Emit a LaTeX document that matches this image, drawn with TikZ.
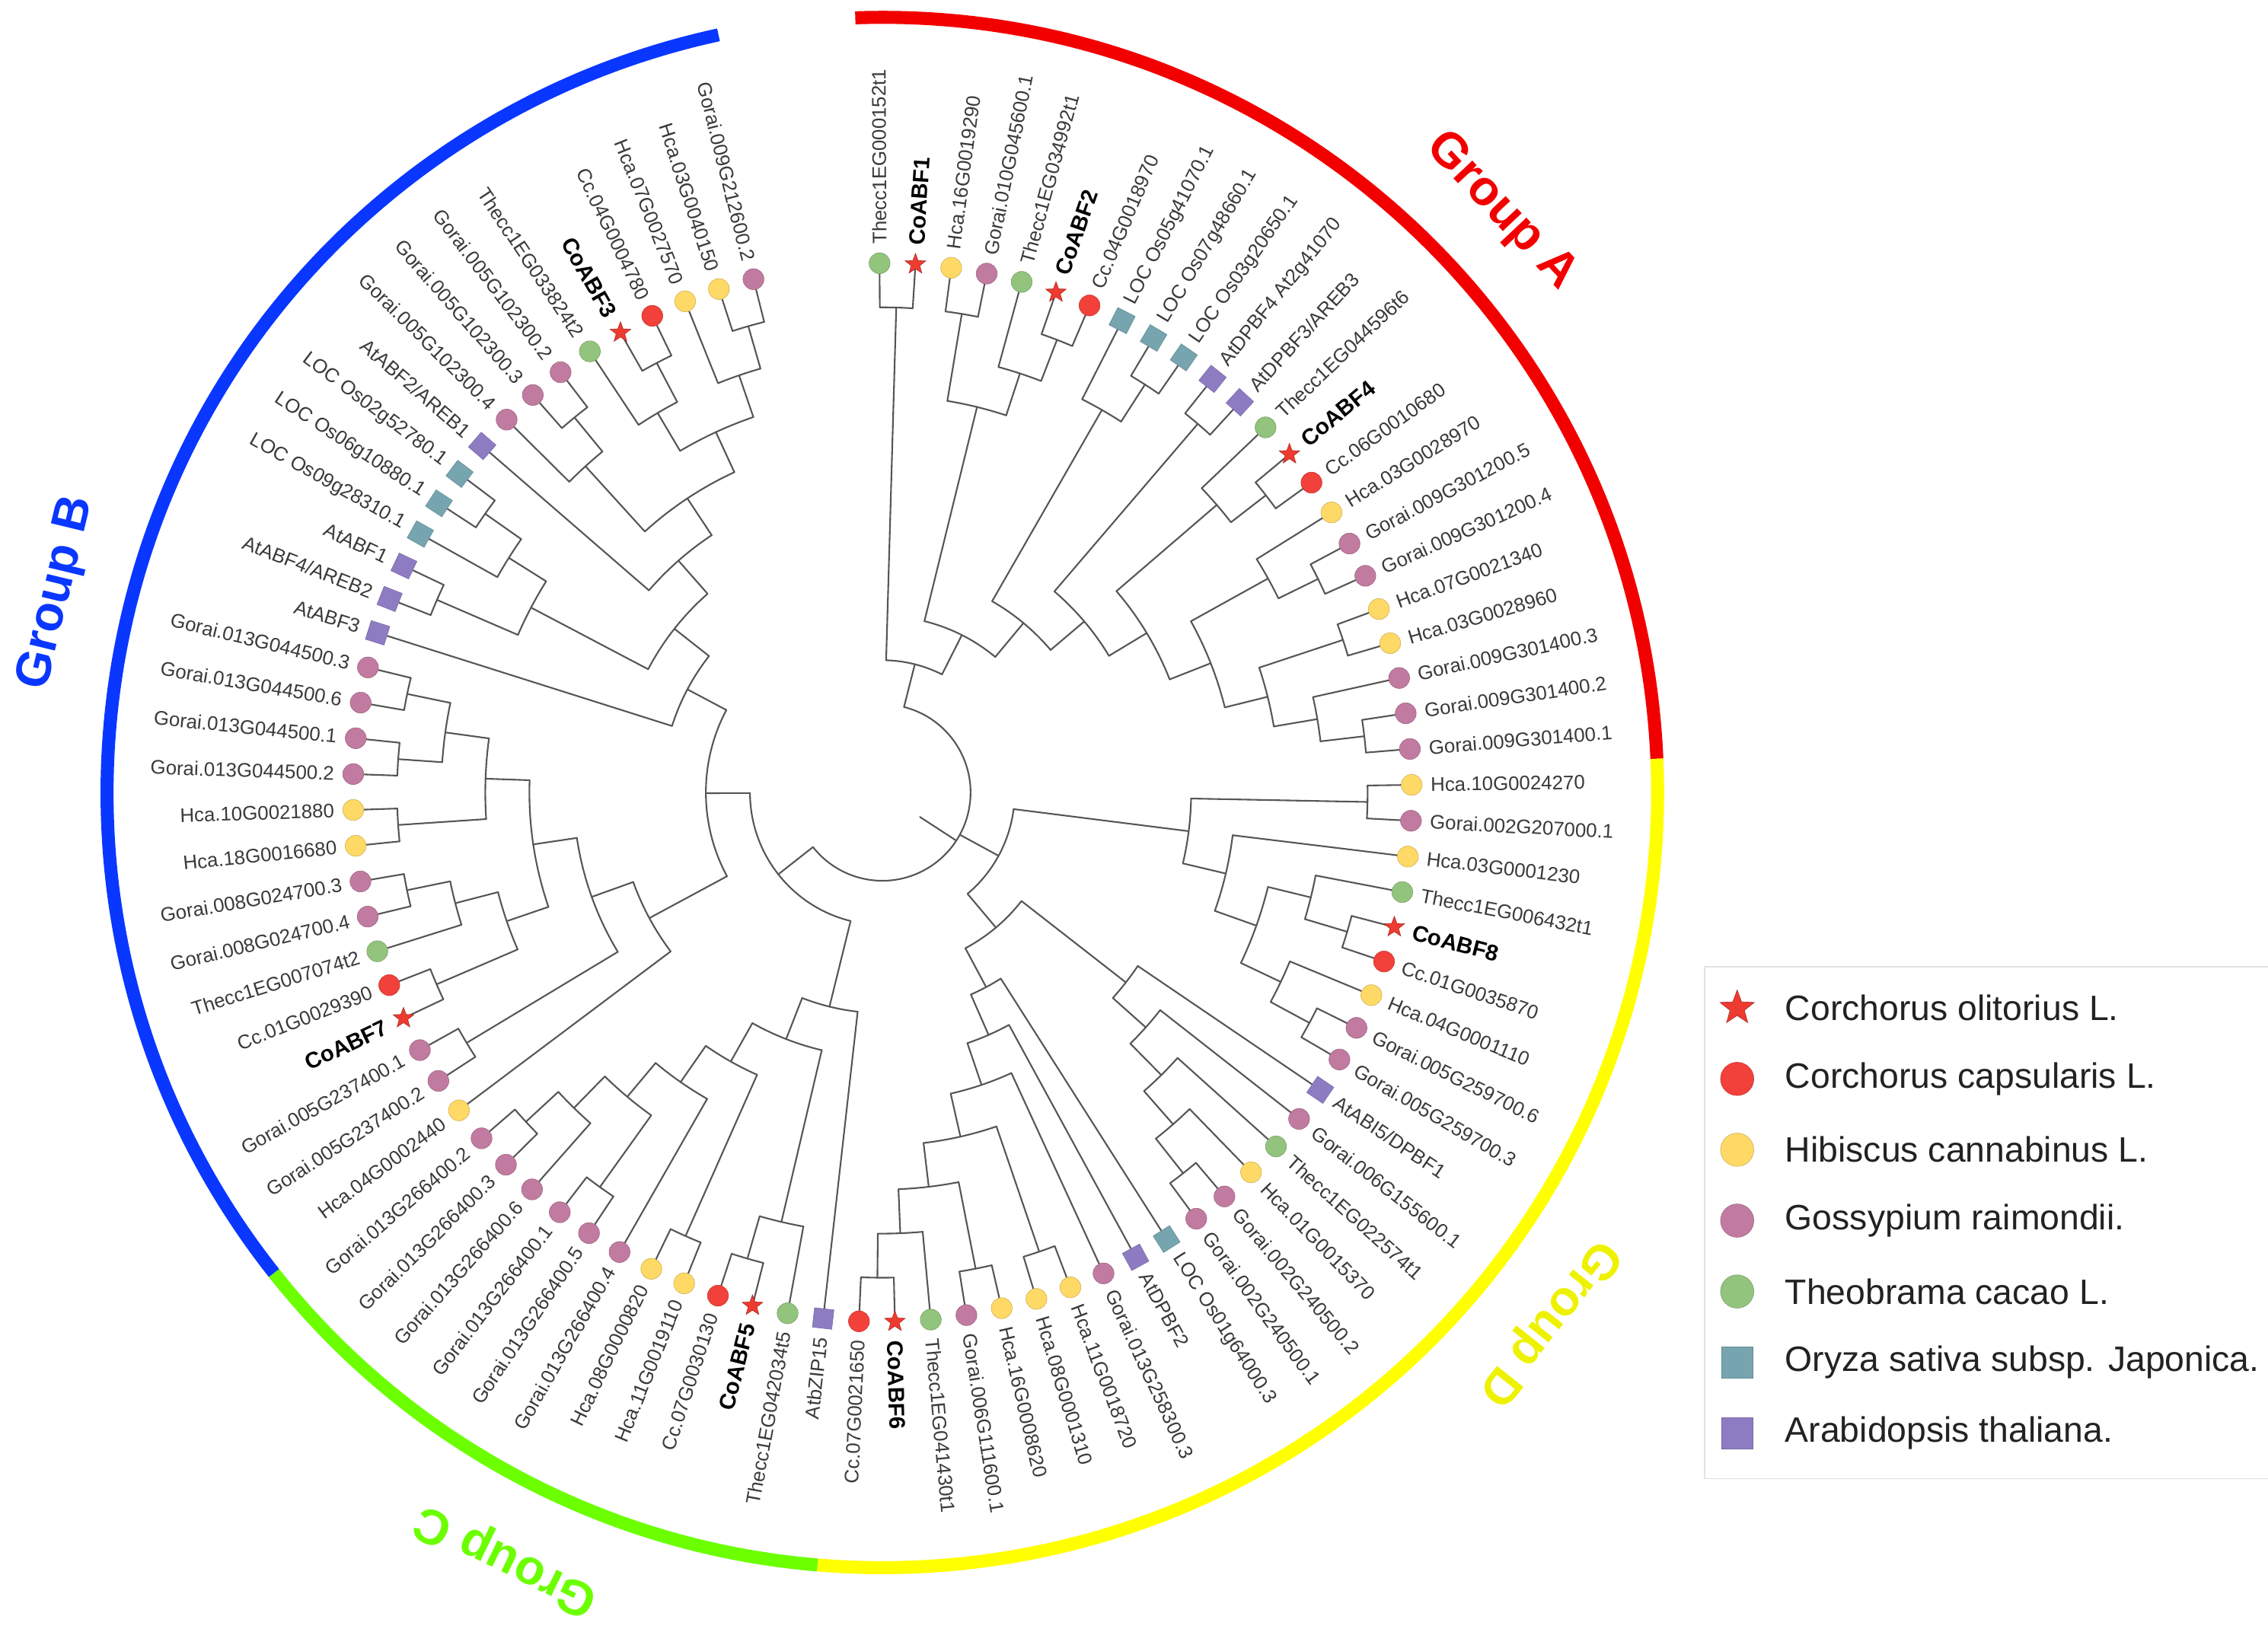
\documentclass[tikz,border=0pt]{standalone}
\usepackage{fontspec}
\setmainfont{Liberation Sans}
\usetikzlibrary{shapes.geometric}
\definecolor{treegray}{HTML}{555555}
\definecolor{labgray}{HTML}{3A3A3A}
\definecolor{cStar}{HTML}{EE3B30}
\definecolor{cCc}{HTML}{F2413A}
\definecolor{cHc}{HTML}{FFD966}
\definecolor{cGr}{HTML}{C27BA0}
\definecolor{cTc}{HTML}{93C47D}
\definecolor{cOs}{HTML}{76A5AF}
\definecolor{cAt}{HTML}{8E7CC3}
\definecolor{rRed}{HTML}{F20000}
\definecolor{rBlue}{HTML}{0A37FF}
\definecolor{rGreen}{HTML}{6BFF00}
\definecolor{rYellow}{HTML}{FFFF00}
\definecolor{tYellow}{HTML}{EEF200}
\definecolor{legbox}{HTML}{E2E2E2}
\definecolor{legtext}{HTML}{222222}

% internal node: child angle 1, child angle 2, height, parent height
\newcommand\tnode[4]{%
  \pgfmathsetmacro\tra{366-30.5*#3}%
  \pgfmathsetmacro\trb{366-30.5*#4}%
  \pgfmathsetmacro\tam{(#1+#2)/2}%
  \draw[br] (#1:\tra pt) arc[start angle=#1, end angle=#2, radius=\tra pt];%
  \draw[br] (\tam:\trb pt) -- (\tam:\tra pt);%
}
% leaf: index, parent height, symbol style, label, label style
\newcommand\tleaf[5]{%
  \pgfmathsetmacro\tth{90.3-3.89*(#1-1)}%
  \pgfmathsetmacro\trb{366-30.5*#2}%
  \pgfmathsetmacro\tcc{cos(\tth)}%
  \draw[br] (\tth:\trb pt) -- (\tth:366pt);%
  \node[#3=\tth] (s#1) at (\tth:366pt) {};%
  \ifdim\tcc pt<-0.02pt
    \pgfmathsetmacro\trot{\tth+180}%
    \node[#5, anchor=east, rotate=\trot] (t#1) at (\tth:379pt) {#4};%
  \else
    \node[#5, anchor=west, rotate=\tth] (t#1) at (\tth:379pt) {#4};%
  \fi
}

\begin{document}
\begin{tikzpicture}[x=1pt,y=1pt,
  br/.style={draw=treegray, line width=1.1pt, line cap=round},
  ring/.style={line width=9pt, line cap=butt},
  lab/.style={font=\fontsize{13.6}{15}\selectfont, text=labgray, inner sep=0pt},
  labb/.style={font=\fontsize{15.5}{17}\selectfont\bfseries, text=black, inner sep=0pt},
  sOl/.style={star, star points=5, star point ratio=2.4, minimum size=15pt, inner sep=0pt, fill=cStar, draw=cStar!70!black, line width=0.3pt},
  sCc/.style={circle, minimum size=14.5pt, inner sep=0pt, fill=cCc, draw=cCc!80!black, line width=0.3pt},
  sHc/.style={circle, minimum size=14.5pt, inner sep=0pt, fill=cHc, draw=cHc!80!black, line width=0.3pt},
  sGr/.style={circle, minimum size=14.5pt, inner sep=0pt, fill=cGr, draw=cGr!80!black, line width=0.3pt},
  sTc/.style={circle, minimum size=14.5pt, inner sep=0pt, fill=cTc, draw=cTc!80!black, line width=0.3pt},
  sOs/.style={rectangle, minimum size=13.5pt, inner sep=0pt, fill=cOs, draw=cOs!85!black, line width=0.3pt, rotate=#1},
  sAt/.style={rectangle, minimum size=13.5pt, inner sep=0pt, fill=cAt, draw=cAt!85!black, line width=0.3pt, rotate=#1},
  grp/.style={font=\fontsize{34}{38}\selectfont\bfseries, inner sep=0pt},
  legt/.style={font=\fontsize{24.4}{28}\selectfont, text=legtext, anchor=west, inner sep=0pt}
]
\useasboundingbox (0,0) rectangle (1568,-1126);
\fill[white] (0,0) rectangle (1568,-1126);

\begin{scope}[shift={(610,-548)}]
% coloured ring
\draw[ring, rRed] (92:536pt) arc[start angle=92, end angle=2.5, radius=536pt];
\draw[ring, rYellow] (2.5:536pt) arc[start angle=2.5, end angle=-94.8, radius=536pt];
\draw[ring, rGreen] (-94.8:536pt) arc[start angle=-94.8, end angle=-141.7, radius=536pt];
\draw[ring, rBlue] (-141.7:536pt) arc[start angle=-141.7, end angle=-257.8, radius=536pt];

% group labels
\node[grp, text=rRed, rotate=-46.8] (gA) at (43.2:587pt) {Group A};
\node[grp, text=rBlue, rotate=76.4] (gB) at (166.4:587pt) {Group B};
\node[grp, text=rGreen, rotate=153.9] (gC) at (243.9:590pt) {Group C};
\node[grp, text=tYellow, rotate=-128.5] (gD) at (-38.5:588pt) {Group D};

% root
\draw[br] (75.781:61pt) arc[start angle=75.781, end angle=-141.8236, radius=61pt];
\draw[br] (-33.021:31pt) -- (-33.021:61pt);

% Group A
\tnode{90.30}{86.41}{1}{9}
\tnode{82.52}{78.63}{1}{3}
\tnode{70.85}{66.96}{1}{2}
\tnode{74.74}{68.905}{2}{3}
\tnode{80.575}{71.8225}{3}{8}
\tnode{59.18}{55.29}{1}{2}
\tnode{63.07}{57.235}{2}{7}
\tnode{51.40}{47.51}{1}{6}
\tnode{39.73}{35.84}{1}{2}
\tnode{43.62}{37.785}{2}{5}
\tnode{28.06}{24.17}{1}{2}
\tnode{31.95}{26.115}{2}{4}
\tnode{20.28}{16.39}{1}{3}
\tnode{8.61}{4.72}{1}{2}
\tnode{12.50}{6.665}{2}{3}
\tnode{18.335}{9.5825}{3}{4}
\tnode{29.0325}{13.95875}{4}{5}
\tnode{40.7025}{21.4956}{5}{6}
\tnode{49.455}{31.099}{6}{7}
\tnode{60.1525}{40.277}{7}{8}
\tnode{76.199}{50.2148}{8}{9}
\tnode{88.355}{63.207}{9}{10}

% Group D
\tnode{0.83}{-3.06}{1}{5}
\tnode{-14.73}{-18.62}{1}{2}
\tnode{-10.84}{-16.675}{2}{3}
\tnode{-26.40}{-30.29}{1}{2}
\tnode{-22.51}{-28.345}{2}{3}
\tnode{-13.7575}{-25.4275}{3}{4}
\tnode{-6.95}{-19.5925}{4}{5}
\tnode{-1.115}{-13.27125}{5}{9}
\tnode{-49.74}{-53.63}{1}{2}
\tnode{-45.85}{-51.685}{2}{3}
\tnode{-41.96}{-48.7675}{3}{4}
\tnode{-38.07}{-45.36375}{4}{5}
\tnode{-34.18}{-41.717}{5}{8}
\tnode{-88.64}{-92.53}{1}{2}
\tnode{-84.75}{-90.585}{2}{3}
\tnode{-76.97}{-80.86}{1}{3}
\tnode{-78.915}{-87.6675}{3}{4}
\tnode{-69.19}{-73.08}{1}{4}
\tnode{-71.135}{-83.29125}{4}{5}
\tnode{-65.30}{-77.213}{5}{6}
\tnode{-61.41}{-71.2565}{6}{7}
\tnode{-57.52}{-66.333}{7}{8}
\tnode{-37.9485}{-61.9265}{8}{9}
\tnode{-7.193}{-49.9375}{9}{10}

% Group C
\tnode{-104.20}{-108.09}{1}{2}
\tnode{-100.31}{-106.145}{2}{6}
\tnode{-111.98}{-115.87}{1}{5}
\tnode{-123.65}{-127.54}{1}{3}
\tnode{-135.32}{-139.21}{1}{2}
\tnode{-131.43}{-137.265}{2}{3}
\tnode{-125.595}{-134.3475}{3}{4}
\tnode{-119.76}{-129.97125}{4}{5}
\tnode{-113.925}{-124.8656}{5}{6}
\tnode{-119.3953}{-103.2275}{6}{7}
\tnode{-111.3114}{-96.42}{7}{9}

% Group B
\tnode{-146.99}{-150.88}{1}{5}
\tnode{-154.77}{-158.66}{1}{3}
\tnode{-166.44}{-170.33}{1}{2}
\tnode{-162.55}{-168.385}{2}{3}
\tnode{-156.715}{-165.4675}{3}{4}
\tnode{-174.22}{-178.11}{1}{3}
\tnode{-182.00}{-185.89}{1}{2}
\tnode{-189.78}{-193.67}{1}{2}
\tnode{-183.945}{-191.725}{2}{3}
\tnode{-176.165}{-187.835}{3}{4}
\tnode{-161.09125}{-182.0}{4}{5}
\tnode{-148.935}{-171.5456}{5}{6}
\tnode{-143.10}{-160.2403}{6}{8}
\tnode{-201.45}{-205.34}{1}{3}
\tnode{-213.12}{-217.01}{1}{2}
\tnode{-209.23}{-215.065}{2}{3}
\tnode{-203.395}{-212.1475}{3}{6}
\tnode{-228.68}{-232.57}{1}{2}
\tnode{-224.79}{-230.625}{2}{4}
\tnode{-240.35}{-244.24}{1}{2}
\tnode{-236.46}{-242.295}{2}{3}
\tnode{-252.02}{-255.91}{1}{2}
\tnode{-248.13}{-253.965}{2}{3}
\tnode{-239.3775}{-251.0475}{3}{4}
\tnode{-227.7075}{-245.2125}{4}{5}
\tnode{-220.90}{-236.46}{5}{6}
\tnode{-207.77125}{-228.68}{6}{7}
\tnode{-197.56}{-218.2256}{7}{8}
\tnode{-151.67}{-207.8928}{8}{9}
\tnode{-103.8657}{-179.7814}{9}{10}

% leaves
\tleaf{1}{1}{sTc}{Thecc1EG000152t1}{lab}
\tleaf{2}{1}{sOl}{CoABF1}{labb}
\tleaf{3}{1}{sHc}{Hca.16G0019290}{lab}
\tleaf{4}{1}{sGr}{Gorai.010G045600.1}{lab}
\tleaf{5}{2}{sTc}{Thecc1EG034992t1}{lab}
\tleaf{6}{1}{sOl}{CoABF2}{labb}
\tleaf{7}{1}{sCc}{Cc.04G0018970}{lab}
\tleaf{8}{2}{sOs}{LOC Os05g41070.1}{lab}
\tleaf{9}{1}{sOs}{LOC Os07g48660.1}{lab}
\tleaf{10}{1}{sOs}{LOC Os03g20650.1}{lab}
\tleaf{11}{1}{sAt}{AtDPBF4 At2g41070}{lab}
\tleaf{12}{1}{sAt}{AtDPBF3/AREB3}{lab}
\tleaf{13}{2}{sTc}{Thecc1EG044596t6}{lab}
\tleaf{14}{1}{sOl}{CoABF4}{labb}
\tleaf{15}{1}{sCc}{Cc.06G0010680}{lab}
\tleaf{16}{2}{sHc}{Hca.03G0028970}{lab}
\tleaf{17}{1}{sGr}{Gorai.009G301200.5}{lab}
\tleaf{18}{1}{sGr}{Gorai.009G301200.4}{lab}
\tleaf{19}{1}{sHc}{Hca.07G0021340}{lab}
\tleaf{20}{1}{sHc}{Hca.03G0028960}{lab}
\tleaf{21}{2}{sGr}{Gorai.009G301400.3}{lab}
\tleaf{22}{1}{sGr}{Gorai.009G301400.2}{lab}
\tleaf{23}{1}{sGr}{Gorai.009G301400.1}{lab}
\tleaf{24}{1}{sHc}{Hca.10G0024270}{lab}
\tleaf{25}{1}{sGr}{Gorai.002G207000.1}{lab}
\tleaf{26}{4}{sHc}{Hca.03G0001230}{lab}
\tleaf{27}{2}{sTc}{Thecc1EG006432t1}{lab}
\tleaf{28}{1}{sOl}{CoABF8}{labb}
\tleaf{29}{1}{sCc}{Cc.01G0035870}{lab}
\tleaf{30}{2}{sHc}{Hca.04G0001110}{lab}
\tleaf{31}{1}{sGr}{Gorai.005G259700.6}{lab}
\tleaf{32}{1}{sGr}{Gorai.005G259700.3}{lab}
\tleaf{33}{5}{sAt}{AtABI5/DPBF1}{lab}
\tleaf{34}{4}{sGr}{Gorai.006G155600.1}{lab}
\tleaf{35}{3}{sTc}{Thecc1EG022574t1}{lab}
\tleaf{36}{2}{sHc}{Hca.01G0015370}{lab}
\tleaf{37}{1}{sGr}{Gorai.002G240500.2}{lab}
\tleaf{38}{1}{sGr}{Gorai.002G240500.1}{lab}
\tleaf{39}{7}{sOs}{LOC Os01g64000.3}{lab}
\tleaf{40}{6}{sAt}{AtDPBF2}{lab}
\tleaf{41}{5}{sGr}{Gorai.013G258300.3}{lab}
\tleaf{42}{1}{sHc}{Hca.11G0018720}{lab}
\tleaf{43}{1}{sHc}{Hca.08G0001310}{lab}
\tleaf{44}{1}{sHc}{Hca.16G0008620}{lab}
\tleaf{45}{1}{sGr}{Gorai.006G111600.1}{lab}
\tleaf{46}{2}{sTc}{Thecc1EG041430t1}{lab}
\tleaf{47}{1}{sOl}{CoABF6}{labb}
\tleaf{48}{1}{sCc}{Cc.07G0021650}{lab}
\tleaf{49}{7}{sAt}{AtbZIP15}{lab}
\tleaf{50}{2}{sTc}{Thecc1EG042034t5}{lab}
\tleaf{51}{1}{sOl}{CoABF5}{labb}
\tleaf{52}{1}{sCc}{Cc.07G0030130}{lab}
\tleaf{53}{1}{sHc}{Hca.11G0019110}{lab}
\tleaf{54}{1}{sHc}{Hca.08G0000820}{lab}
\tleaf{55}{4}{sGr}{Gorai.013G266400.4}{lab}
\tleaf{56}{1}{sGr}{Gorai.013G266400.5}{lab}
\tleaf{57}{1}{sGr}{Gorai.013G266400.1}{lab}
\tleaf{58}{2}{sGr}{Gorai.013G266400.6}{lab}
\tleaf{59}{1}{sGr}{Gorai.013G266400.3}{lab}
\tleaf{60}{1}{sGr}{Gorai.013G266400.2}{lab}
\tleaf{61}{6}{sHc}{Hca.04G0002440}{lab}
\tleaf{62}{1}{sGr}{Gorai.005G237400.2}{lab}
\tleaf{63}{1}{sGr}{Gorai.005G237400.1}{lab}
\tleaf{64}{1}{sOl}{CoABF7}{labb}
\tleaf{65}{1}{sCc}{Cc.01G0029390}{lab}
\tleaf{66}{2}{sTc}{Thecc1EG007074t2}{lab}
\tleaf{67}{1}{sGr}{Gorai.008G024700.4}{lab}
\tleaf{68}{1}{sGr}{Gorai.008G024700.3}{lab}
\tleaf{69}{1}{sHc}{Hca.18G0016680}{lab}
\tleaf{70}{1}{sHc}{Hca.10G0021880}{lab}
\tleaf{71}{1}{sGr}{Gorai.013G044500.2}{lab}
\tleaf{72}{1}{sGr}{Gorai.013G044500.1}{lab}
\tleaf{73}{1}{sGr}{Gorai.013G044500.6}{lab}
\tleaf{74}{1}{sGr}{Gorai.013G044500.3}{lab}
\tleaf{75}{7}{sAt}{AtABF3}{lab}
\tleaf{76}{1}{sAt}{AtABF4/AREB2}{lab}
\tleaf{77}{1}{sAt}{AtABF1}{lab}
\tleaf{78}{2}{sOs}{LOC Os09g28310.1}{lab}
\tleaf{79}{1}{sOs}{LOC Os06g10880.1}{lab}
\tleaf{80}{1}{sOs}{LOC Os02g52780.1}{lab}
\tleaf{81}{5}{sAt}{AtABF2/AREB1}{lab}
\tleaf{82}{2}{sGr}{Gorai.005G102300.4}{lab}
\tleaf{83}{1}{sGr}{Gorai.005G102300.3}{lab}
\tleaf{84}{1}{sGr}{Gorai.005G102300.2}{lab}
\tleaf{85}{2}{sTc}{Thecc1EG033824t2}{lab}
\tleaf{86}{1}{sOl}{CoABF3}{labb}
\tleaf{87}{1}{sCc}{Cc.04G0004780}{lab}
\tleaf{88}{2}{sHc}{Hca.07G0027570}{lab}
\tleaf{89}{1}{sHc}{Hca.03G0040150}{lab}
\tleaf{90}{1}{sGr}{Gorai.009G212600.2}{lab}
\end{scope}

% legend
\node[draw=legbox, line width=0.8pt, anchor=north west, minimum width=430pt, minimum height=354pt, inner sep=0pt] (legend) at (1178,-668) {};
\node[sOl=0, minimum size=25pt] (k1) at (1201,-697) {};
\node[legt] (l1) at (1234,-697) {Corchorus olitorius L.};
\node[sCc=0, minimum size=23pt] (k2) at (1201,-746) {};
\node[legt] (l2) at (1234,-746) {Corchorus capsularis L.};
\node[sHc=0, minimum size=23pt] (k3) at (1201,-795) {};
\node[legt] (l3) at (1234,-795) {Hibiscus cannabinus L.};
\node[sGr=0, minimum size=23pt] (k4) at (1201,-844) {};
\node[legt] (l4) at (1234,-844) {Gossypium raimondii.};
\node[sTc=0, minimum size=23pt] (k5) at (1201,-893) {};
\node[legt] (l5) at (1234,-893) {Theobrama cacao L.};
\node[sOs=0, minimum size=22pt] (k6) at (1201,-942) {};
\node[legt] (l6) at (1234,-942) {Oryza sativa subsp. Japonica.};
\node[sAt=0, minimum size=22pt] (k7) at (1201,-991) {};
\node[legt] (l7) at (1234,-991) {Arabidopsis thaliana.};
\end{tikzpicture}
\end{document}
